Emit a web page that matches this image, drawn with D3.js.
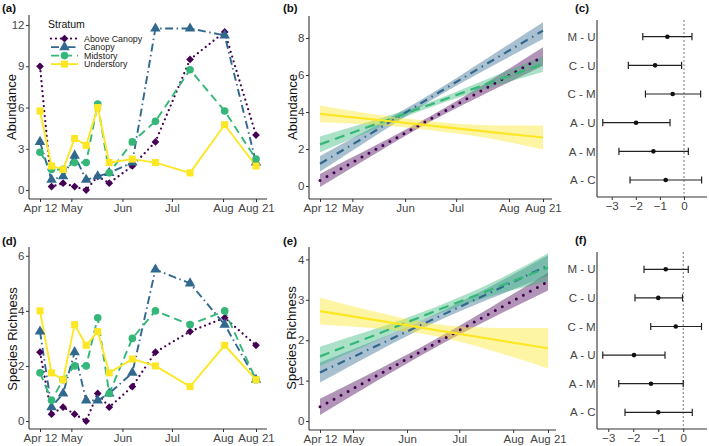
<!DOCTYPE html>
<html><head><meta charset="utf-8">
<script src="https://cdn.jsdelivr.net/npm/d3@7"></script>
<style>body{margin:0;background:#fff} text{font-family:"Liberation Sans",Arial,Helvetica,sans-serif}</style>
</head><body><svg id="c" width="709" height="446"></svg>
<script>
// ---------- DATA ----------
const strata = ["Above Canopy","Canopy","Midstory","Understory"];
const sampleDates = ["2021-04-12","2021-04-19","2021-04-26","2021-05-03","2021-05-10","2021-05-17","2021-05-24","2021-06-07","2021-06-21","2021-07-12","2021-08-02","2021-08-21"];
const xTickDates = ["2021-04-12","2021-05-01","2021-06-01","2021-07-01","2021-08-01","2021-08-21"];
const xTickLabels = ["Apr 12","May","Jun","Jul","Aug","Aug 21"];

const abundAbove  = [9,0.25,0.5,0.25,0,1,0.5,1.75,3.5,9.5,11.5,4];
const abundCanopy = [3.5,0.75,1,2.5,0.75,1,1.25,2,11.75,11.75,11.25,2];
const abundMid    = [2.75,1.5,1.5,2,2,6.25,1.25,3.5,5,8.75,5.75,2.25];
const abundUnder  = [5.75,1.75,1.5,3.75,3.25,6,2,2.25,2,1.25,4.75,1.75];

const richAbove  = [2.5,0.25,0.5,0.25,0,1,0.5,1.25,2.5,3.25,3.75,2.75];
const richCanopy = [3.25,0.5,1,2.5,0.75,0.75,1,1.75,5.5,5,3.5,1.5];
const richMid    = [1.75,0.75,1.5,2,2,3.75,1,3,4,3.5,4,1.5];
const richUnder  = [4,1.75,1.5,3.5,2.75,3.25,1.75,2.25,2,1.25,2.75,1.5];

// model trends (fit, lower, upper) at these dates
const trendDates = ["2021-04-12","2021-05-15","2021-06-16","2021-07-19","2021-08-21"];
const abFitAbove = [0.3,1.99,3.63,5.31,7.0];
const abLoAbove  = [-0.05,1.77,3.48,5.03,6.5];
const abHiAbove  = [0.65,2.21,3.78,5.59,7.5];
const abFitCanopy = [1.2,3.01,4.79,6.61,8.4];
const abLoCanopy  = [0.78,2.74,4.61,6.33,7.95];
const abHiCanopy  = [1.62,3.28,4.97,6.89,8.85];
const abFitMid = [2.25,3.35,4.41,5.52,6.6];
const abLoMid  = [1.83,3.10,4.26,5.27,6.18];
const abHiMid  = [2.67,3.60,4.56,5.77,7.02];
const abFitUnder = [3.9,3.58,3.26,2.94,2.62];
const abLoUnder  = [3.45,3.30,3.02,2.59,1.97];
const abHiUnder  = [4.35,3.86,3.50,3.29,3.27];

const rFitAbove = [0.35,1.13,1.89,2.67,3.45];
const rLoAbove  = [0.15,1.0,1.79,2.53,3.23];
const rHiAbove  = [0.55,1.26,1.99,2.81,3.67];
const rFitCanopy = [1.2,1.87,2.52,3.18,3.85];
const rLoCanopy  = [0.95,1.72,2.42,3.03,3.6];
const rHiCanopy  = [1.45,2.02,2.62,3.33,4.1];
const rFitMid = [1.6,2.15,2.7,3.25,3.8];
const rLoMid  = [1.36,2.0,2.6,3.09,3.45];
const rHiMid  = [1.84,2.3,2.8,3.41,4.15];
const rFitUnder = [2.72,2.49,2.26,2.03,1.8];
const rLoUnder  = [2.39,2.29,2.11,1.75,1.3];
const rHiUnder  = [3.05,2.69,2.41,2.31,2.3];

// pairwise contrasts
const contrasts = ["M - U","C - U","C - M","A - U","A - M","A - C"];
const abEst = [-0.69,-1.2,-0.47,-1.99,-1.27,-0.76];
const abLo  = [-1.71,-2.31,-1.6,-3.37,-2.7,-2.24];
const abHi  = [0.33,-0.1,0.69,-0.58,0.18,0.73];
const rEst = [-0.7,-1.0,-0.3,-1.97,-1.29,-1.0];
const rLo  = [-1.57,-1.93,-1.3,-3.22,-2.58,-2.33];
const rHi  = [0.2,-0.03,0.73,-0.73,0.0,0.36];

// ---------- STYLE ----------
const colors = ["#440154","#31688E","#35B779","#FDE725"];
const dashSmall = ["0,5","8,3.5,1.5,3.5","8,5",null];
const dashBig   = ["0,8","8,5,1.5,5","10,6",null];
const capSmall  = ["round","butt","butt","butt"];
const parse = d3.timeParse("%Y-%m-%d");
const svg = d3.select("#c");
svg.append("rect").attr("width",709).attr("height",446).attr("fill","#fff");

const symGen = [
  d3.symbol().type(d3.symbolSquare).size(30),
  d3.symbol().type(d3.symbolTriangle).size(48),
  d3.symbol().type(d3.symbolCircle).size(46),
  d3.symbol().type(d3.symbolSquare).size(50)
];
const symRot = [45,0,0,0];

function axes(g, P, x, y, xTickVals, xFmt, yTickVals, yFmt, yTickSize){
  const ax = g.append("g").attr("transform",`translate(0,${P.bottom})`)
    .call(d3.axisBottom(x).tickValues(xTickVals).tickFormat(xFmt).tickSize(3).tickSizeOuter(0).tickPadding(1.5));
  ax.select(".domain").remove();
  const ay = g.append("g").attr("transform",`translate(${P.left},0)`)
    .call(d3.axisLeft(y).tickValues(yTickVals).tickFormat(yFmt).tickSize(yTickSize).tickSizeOuter(0).tickPadding(1.5));
  ay.select(".domain").remove();
  [ax,ay].forEach(a=>{
    a.selectAll("text").attr("font-size",11.5).attr("fill","#444").attr("font-family","Liberation Sans, Arial, sans-serif");
    a.selectAll("line").attr("stroke","#333");
  });
  g.append("line").attr("x1",P.left).attr("x2",P.right).attr("y1",P.bottom).attr("y2",P.bottom).attr("stroke","#333").attr("stroke-width",1.1);
  g.append("line").attr("x1",P.left).attr("x2",P.left).attr("y1",P.top).attr("y2",P.bottom).attr("stroke","#333").attr("stroke-width",1.1);
}
function tag(t,x,yb){
  svg.append("text").attr("x",x).attr("y",yb).attr("font-size",11.5).attr("font-weight","bold").attr("fill","#111").text(t);
}
function ytitle(t,x,y){
  svg.append("text").attr("transform",`translate(${x},${y}) rotate(-90)`).attr("text-anchor","middle")
    .attr("font-size",13).attr("fill","#111").text(t);
}

function seriesPanel(P, series, yTicks){
  const g = svg.append("g");
  const x = d3.scaleTime().domain([parse(xTickDates[0]),parse(xTickDates[5])]).range(P.xr);
  const y = d3.scaleLinear().domain(P.yd).range([P.bottom,P.top]);
  axes(g,P,x,y,xTickDates.map(parse),(d,i)=>xTickLabels[i],yTicks,d3.format("d"),3);
  const line = d3.line().x((d,i)=>x(parse(sampleDates[i]))).y(d=>y(d));
  series.forEach((s,k)=>{
    g.append("path").attr("d",line(s)).attr("fill","none").attr("stroke",colors[k])
      .attr("stroke-width",k===0?2.3:1.9).attr("stroke-dasharray",dashSmall[k]).attr("stroke-linecap",capSmall[k]);
  });
  series.forEach((s,k)=>{
    g.selectAll(null).data(s).enter().append("path")
      .attr("d",symGen[k]()).attr("fill",colors[k])
      .attr("transform",(d,i)=>`translate(${x(parse(sampleDates[i]))},${y(d)}) rotate(${symRot[k]})`);
  });
  return g;
}

function trendPanel(P, fits, los, his, yTicks){
  const g = svg.append("g");
  const x = d3.scaleTime().domain([parse(xTickDates[0]),parse(xTickDates[5])]).range(P.xr);
  const y = d3.scaleLinear().domain(P.yd).range([P.bottom,P.top]);
  axes(g,P,x,y,xTickDates.map(parse),(d,i)=>xTickLabels[i],yTicks,d3.format("d"),3);
  const td = trendDates.map(parse);
  fits.forEach((f,k)=>{
    const area = d3.area().curve(d3.curveNatural).x((d,i)=>x(td[i])).y0((d,i)=>y(los[k][i])).y1((d,i)=>y(his[k][i]));
    g.append("path").attr("d",area(f)).attr("fill",colors[k]).attr("fill-opacity",0.42);
  });
  fits.forEach((f,k)=>{
    const line = d3.line().x((d,i)=>x(td[i])).y(d=>y(d));
    g.append("path").attr("d",line(f)).attr("fill","none").attr("stroke",colors[k])
      .attr("stroke-width",k===0?3:2.2).attr("stroke-dasharray",dashBig[k]).attr("stroke-linecap",k===0?"round":"butt");
  });
}

function contrastPanel(P, est, lo, hi){
  const g = svg.append("g");
  const x = d3.scaleLinear().domain(P.xd).range([P.left,P.right]);
  const y = d3.scalePoint().domain(contrasts).range(P.yr);
  g.append("line").attr("x1",x(0)).attr("x2",x(0)).attr("y1",P.top).attr("y2",P.bottom)
    .attr("stroke","#555").attr("stroke-width",0.8).attr("stroke-dasharray","2,2");
  axes(g,P,x,y,[-3,-2,-1,0],d3.format("d"),contrasts,d=>d,0);
  contrasts.forEach((c,i)=>{
    const yy = y(c);
    g.append("line").attr("x1",x(lo[i])).attr("x2",x(hi[i])).attr("y1",yy).attr("y2",yy).attr("stroke","#222").attr("stroke-width",1.2);
    [lo[i],hi[i]].forEach(v=>g.append("line").attr("x1",x(v)).attr("x2",x(v)).attr("y1",yy-3.6).attr("y2",yy+3.6).attr("stroke","#222").attr("stroke-width",1.2));
    g.append("circle").attr("cx",x(est[i])).attr("cy",yy).attr("r",2.3).attr("fill","#111");
  });
}

// ---------- PANELS ----------
seriesPanel({left:29,right:267,top:15,bottom:199,xr:[40,256],yd:[-0.65,12.73]},
  [abundAbove,abundCanopy,abundMid,abundUnder],[0,3,6,9,12]);
seriesPanel({left:29,right:267,top:247,bottom:429,xr:[40,256],yd:[-0.29,6.32]},
  [richAbove,richCanopy,richMid,richUnder],[0,2,4,6]);
trendPanel({left:309,right:552,top:16,bottom:199,xr:[320,543],yd:[-0.703,9.19]},
  [abFitAbove,abFitCanopy,abFitMid,abFitUnder],[abLoAbove,abLoCanopy,abLoMid,abLoUnder],[abHiAbove,abHiCanopy,abHiMid,abHiUnder],[0,2,4,6,8]);
trendPanel({left:309,right:556,top:247,bottom:430,xr:[320,548],yd:[-0.223,4.307]},
  [rFitAbove,rFitCanopy,rFitMid,rFitUnder],[rLoAbove,rLoCanopy,rLoMid,rLoUnder],[rHiAbove,rHiCanopy,rHiMid,rHiUnder],[0,1,2,3,4]);
contrastPanel({left:597,right:707,top:20,bottom:197,xd:[-3.61,0.954],yr:[36.7,180]},abEst,abLo,abHi);
contrastPanel({left:597,right:707,top:252,bottom:429,xd:[-3.45,0.95],yr:[269.3,412.3]},rEst,rLo,rHi);

// tags & titles
tag("(a)",2,12); tag("(d)",2,245); tag("(b)",283,12); tag("(e)",283,245); tag("(c)",575,12); tag("(f)",575,244);
ytitle("Abundance",16,107); ytitle("Species Richness",17,339);
ytitle("Abundance",297,107); ytitle("Species Richness",296,338);

// legend
const lg = svg.append("g");
lg.append("text").attr("x",48).attr("y",28).attr("font-size",10.5).attr("fill","#111").text("Stratum");
strata.forEach((s,k)=>{
  const yy = 38.6 + k*8.5;
  lg.append("line").attr("x1",51).attr("x2",78).attr("y1",yy).attr("y2",yy).attr("stroke",colors[k])
    .attr("stroke-width",k===0?2.3:1.9).attr("stroke-dasharray",dashSmall[k]).attr("stroke-linecap",capSmall[k]);
  lg.append("path").attr("d",symGen[k]()).attr("fill",colors[k]).attr("transform",`translate(64.5,${yy}) rotate(${symRot[k]})`);
  lg.append("text").attr("x",84).attr("y",yy+3.1).attr("font-size",8.9).attr("fill","#222").text(s);
});
</script></body></html>
